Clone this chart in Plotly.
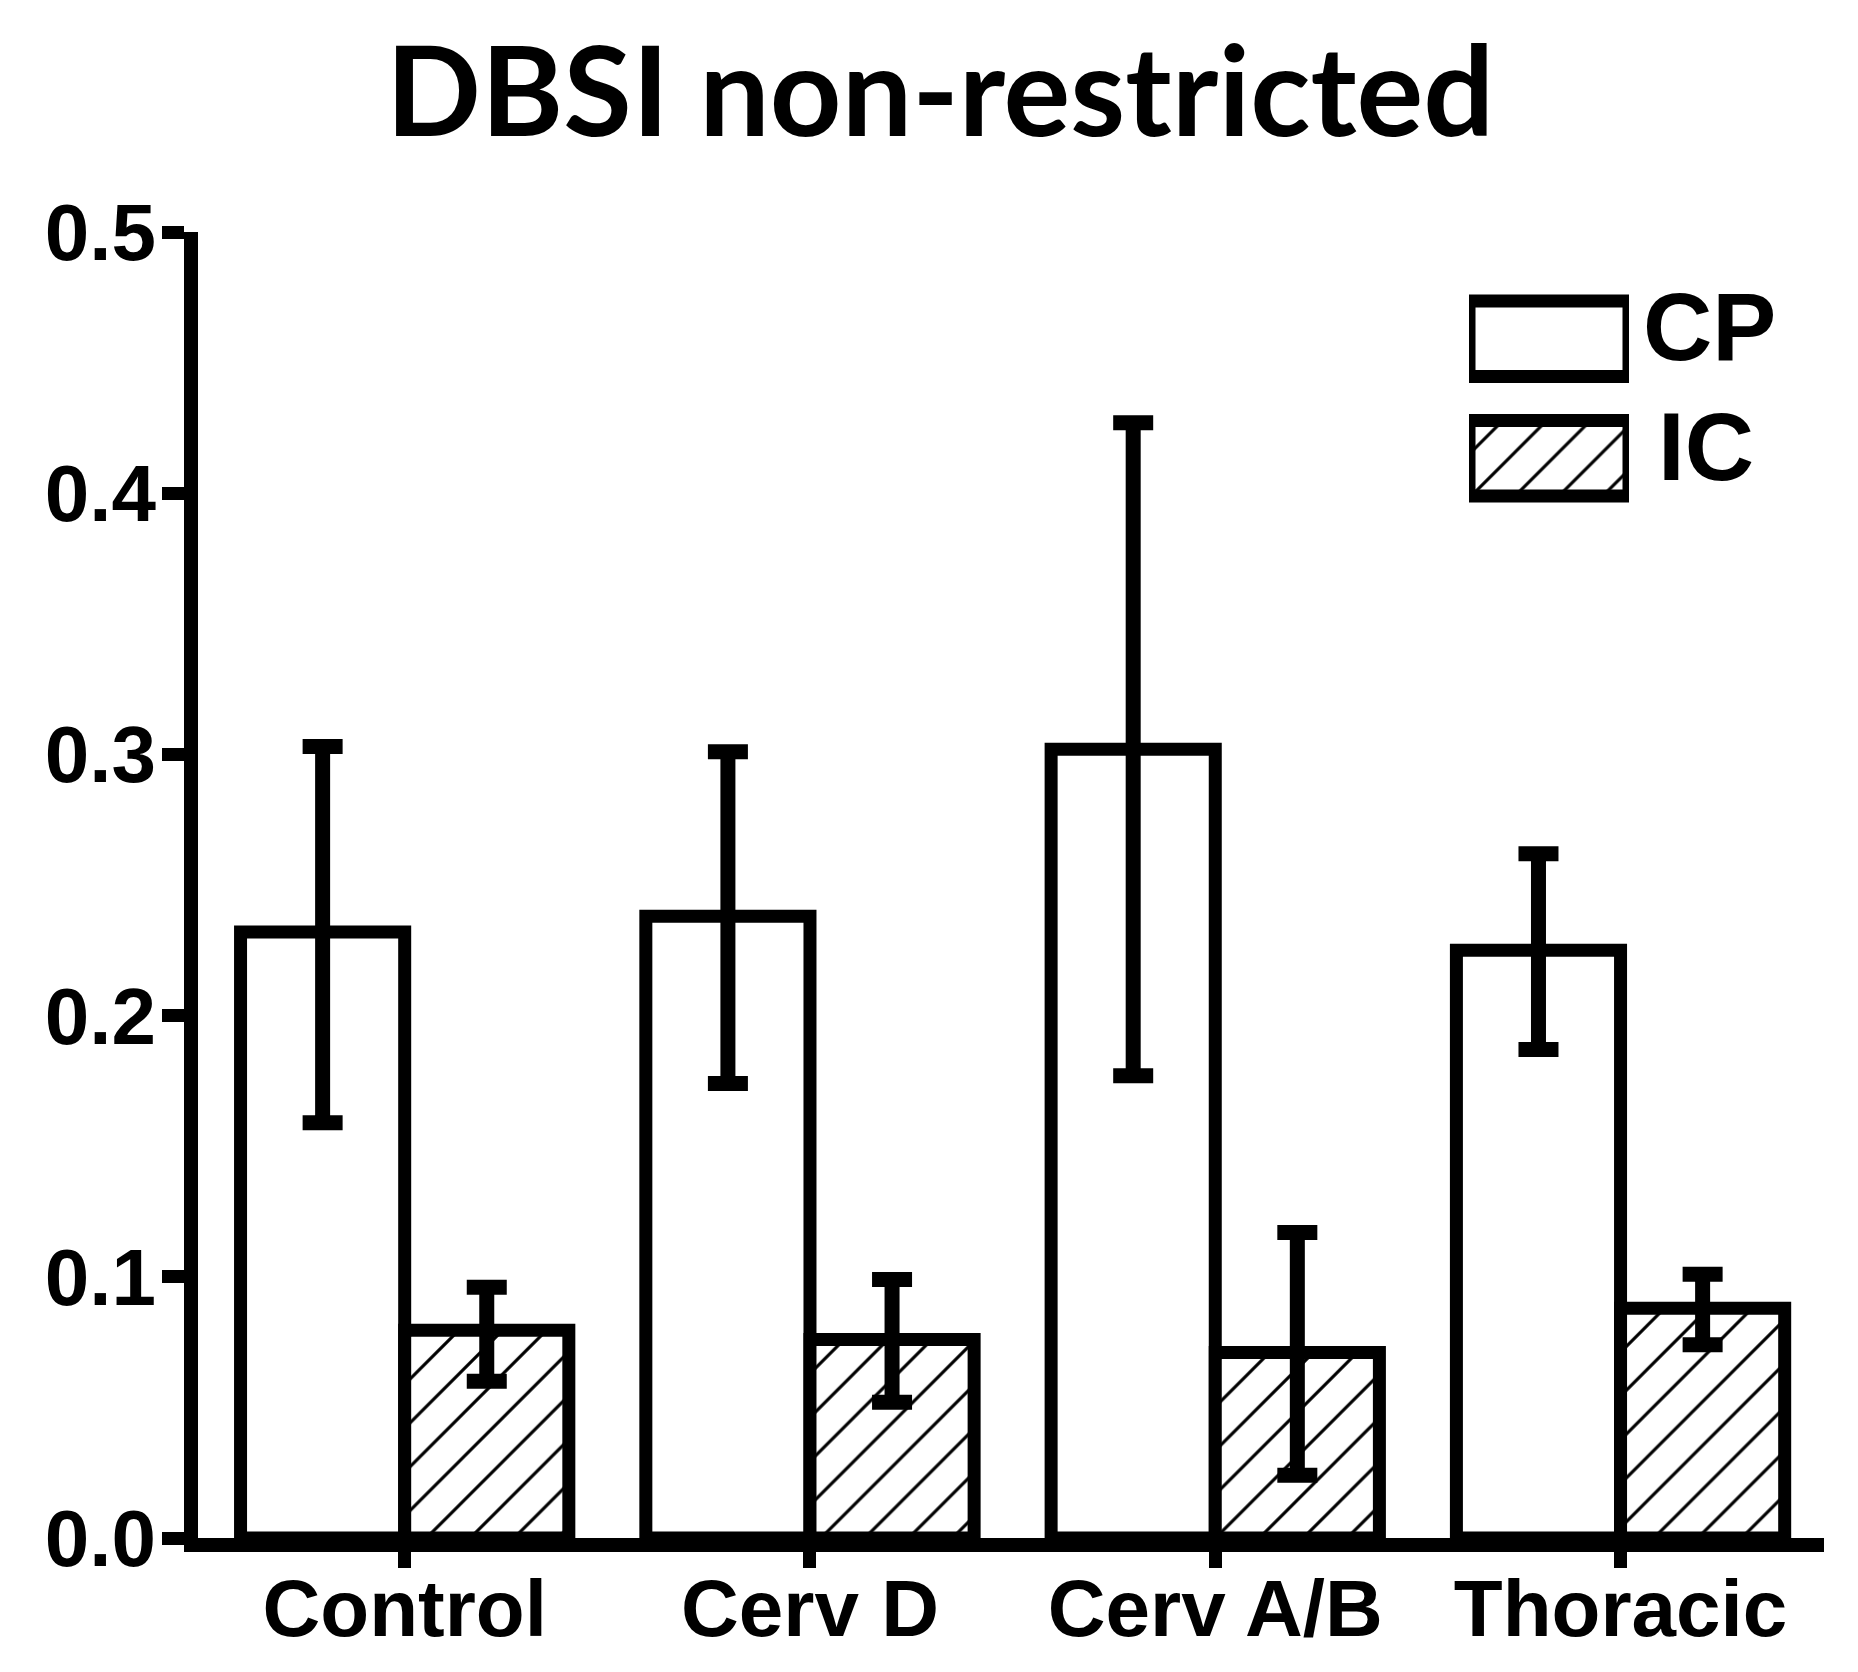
import plotly.graph_objects as go

# values (mean, upper and lower error bar ends)
groups = ['Control', 'Cerv D', 'Cerv A/B', 'Thoracic']
cp_mean = [0.232, 0.238, 0.302, 0.225]
cp_hi = [0.303, 0.301, 0.427, 0.262]
cp_lo = [0.159, 0.174, 0.177, 0.187]
ic_mean = [0.0795, 0.076, 0.071, 0.088]
ic_hi = [0.096, 0.099, 0.117, 0.101]
ic_lo = [0.060, 0.052, 0.024, 0.074]
legend_names = ['IC', 'CP']
y_ticks = [0.0, 0.1, 0.2, 0.3, 0.4, 0.5]

W, H = 1858, 1672
L, R, T, B = 190, 42, 224, 142
pw, ph = W - L - R, H - T - B

def px_x(x):
    return (x - L) / pw

def px_y(y):
    return (H - B - y) / ph

lw = 13
label_font = dict(family='Liberation Sans, Arial', size=80, color='black', weight='bold')
hatch = dict(fgcolor='black', bgcolor='white', size=31, solidity=0.1, fillmode='replace')

def err(mean, hi, lo):
    return dict(type='data', symmetric=False,
                array=[h - m for h, m in zip(hi, mean)],
                arrayminus=[m - l for m, l in zip(mean, lo)],
                color='black', thickness=15, width=20)

traces = []
traces.append(go.Bar(
    x=groups, y=cp_mean, name='CP',
    marker=dict(color='white', line=dict(color='black', width=lw)),
    error_y=err(cp_mean, cp_hi, cp_lo),
    showlegend=False,
))
traces.append(go.Bar(
    x=groups, y=ic_mean, name='IC',
    marker=dict(color='white', line=dict(color='black', width=lw),
                pattern=dict(shape='/', **hatch)),
    error_y=err(ic_mean, ic_hi, ic_lo),
    showlegend=False,
))

# legend keys drawn as a small inset bar chart
traces.append(go.Bar(
    x=[1, 1], y=legend_names, orientation='h', base=0,
    xaxis='x2', yaxis='y2', width=0.63, cliponaxis=False,
    marker=dict(color='white', line=dict(color='black', width=lw),
                pattern=dict(shape=['/', ''], **hatch)),
    hoverinfo='skip', showlegend=False,
))

fig = go.Figure(data=traces)

fig.update_layout(
    width=W, height=H,
    margin=dict(l=L, r=R, t=T, b=B, autoexpand=False),
    paper_bgcolor='white', plot_bgcolor='white',
    barmode='group', bargap=0.19, bargroupgap=0,
    title=dict(text='DBSI non-restricted', xref='container', yref='container',
               x=932 / W, y=1 - 84 / H, xanchor='center', yanchor='middle',
               automargin=False,
               font=dict(family='Lato', size=125, color='black', weight='bold')),
    xaxis=dict(
        range=[-0.51, 3.502], showline=True, linewidth=14, linecolor='black',
        ticks='outside', ticklen=16, tickwidth=13, tickcolor='black',
        ticklabelstandoff=-28,
        tickfont=label_font, showgrid=False, zeroline=False, automargin=False,
    ),
    yaxis=dict(
        range=[0, 0.5], tickvals=y_ticks, tickformat='.1f',
        showline=True, linewidth=14, linecolor='black',
        ticks='outside', ticklen=22, tickwidth=13, tickcolor='black',
        ticklabelstandoff=-10,
        tickfont=label_font, showgrid=False, zeroline=False, automargin=False,
    ),
    xaxis2=dict(domain=[px_x(1461), px_x(1621)], range=[0, 1], anchor='y2',
                visible=False),
    yaxis2=dict(domain=[px_y(510), px_y(271)], range=[-0.5, 1.5], anchor='x2',
                visible=False, type='category'),
)

legend_font = dict(family='Liberation Sans, Arial', size=96, color='black', weight='bold')
for name, xl, yc in zip(['CP', 'IC'], [1633, 1648], [318, 438]):
    fig.add_annotation(text=name, xref='paper', yref='paper',
                       x=px_x(xl), y=px_y(yc), xanchor='left', yanchor='middle',
                       showarrow=False, font=legend_font)

fig.write_html('out.html')
